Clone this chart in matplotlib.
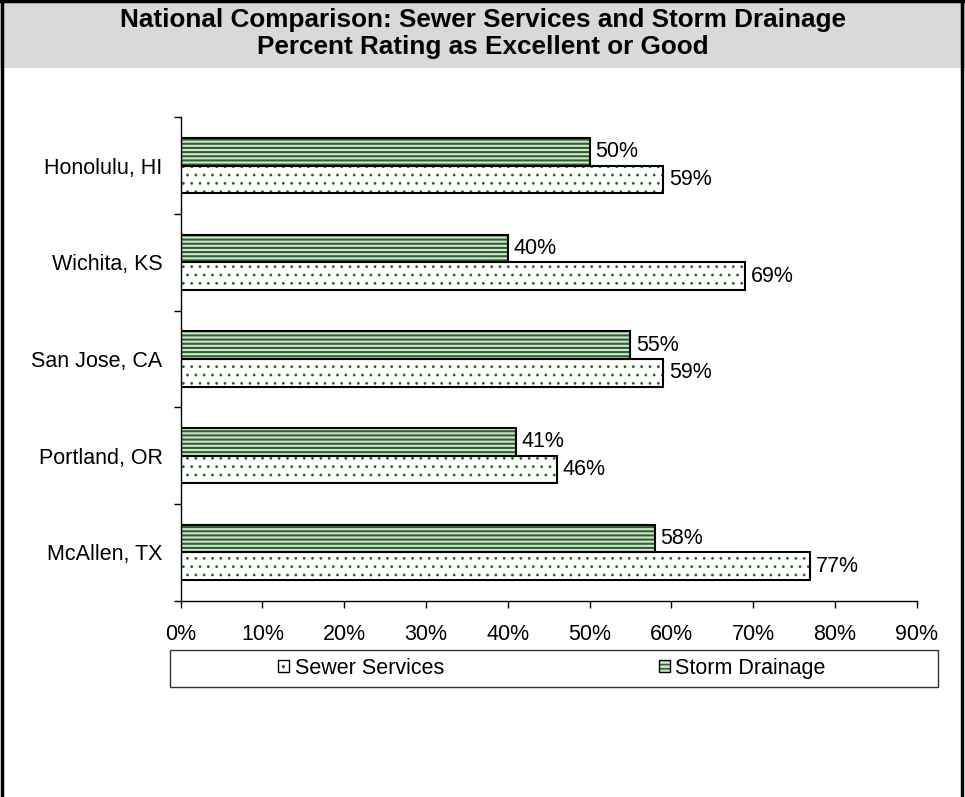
import matplotlib
matplotlib.use("Agg")
import matplotlib.pyplot as plt
from matplotlib.patches import Patch, Rectangle
from matplotlib.lines import Line2D
from matplotlib.legend_handler import HandlerTuple
import numpy as np

cities = ["Honolulu, HI", "Wichita, KS", "San Jose, CA", "Portland, OR", "McAllen, TX"]
sewer = [59, 69, 59, 46, 77]
storm = [50, 40, 55, 41, 58]
xticks = [0, 10, 20, 30, 40, 50, 60, 70, 80, 90]
title_lines = ["National Comparison: Sewer Services and Storm Drainage",
               "Percent Rating as Excellent or Good"]

plt.rcParams["font.family"] = ["Liberation Sans", "DejaVu Sans"]

W, H, DPI = 965, 797, 100
FS = 15.5
fig = plt.figure(figsize=(W / DPI, H / DPI), dpi=DPI)
fig.patch.set_facecolor("white")

# title band
band_bottom = 1 - 68 / H
fig.add_artist(Rectangle((0, band_bottom), 1, 1 - band_bottom, transform=fig.transFigure,
                         facecolor="#d9d9d9", edgecolor="none", zorder=0))
fig.text(0.5, 1 - 20 / H, title_lines[0], ha="center", va="center",
         fontsize=18.8, fontweight="bold")
fig.text(0.5, 1 - 47 / H, title_lines[1], ha="center", va="center",
         fontsize=18.8, fontweight="bold")

# outer frame (left, top, right)
for xs, ys in [([1.5 / W, 1.5 / W], [0, 1]), ([0, 1], [1 - 1 / H, 1 - 1 / H]),
               ([1 - 3 / W, 1 - 3 / W], [0, 1])]:
    fig.add_artist(Line2D(xs, ys, transform=fig.transFigure, color="black", lw=2.5))

left, right = 180.7 / W, 916.7 / W
top, bottom = 1 - 117.3 / H, 1 - 600.7 / H
ax = fig.add_axes([left, bottom, right - left, top - bottom])

green = "#2b632b"
y = np.arange(len(cities))
h = 0.285

storm_face = dict(facecolor="#d5e3d5", hatch="----", edgecolor=green, linewidth=0)
sewer_face = dict(facecolor="white", hatch="..", edgecolor=green, linewidth=0)


def set_hatch_lw(artists, lw):
    for a in artists:
        if hasattr(a, "set_hatch_linewidth"):
            a.set_hatch_linewidth(lw)


plt.rcParams["hatch.linewidth"] = 1.5
storm_bars = ax.barh(y - h / 2, storm, height=h, **storm_face, zorder=2)
set_hatch_lw(storm_bars, 1.5)
plt.rcParams["hatch.linewidth"] = 0.8
sewer_bars = ax.barh(y + h / 2, sewer, height=h, **sewer_face, zorder=2)
set_hatch_lw(sewer_bars, 0.8)
ax.barh(y - h / 2, storm, height=h, fill=False, edgecolor="black", linewidth=1.5, zorder=3)
ax.barh(y + h / 2, sewer, height=h, fill=False, edgecolor="black", linewidth=1.5, zorder=3)

for i in range(len(cities)):
    ax.annotate(f"{storm[i]}%", (storm[i], y[i] - h / 2), xytext=(4, 0),
                textcoords="offset points", va="center", ha="left", fontsize=FS)
    ax.annotate(f"{sewer[i]}%", (sewer[i], y[i] + h / 2), xytext=(4, 0),
                textcoords="offset points", va="center", ha="left", fontsize=FS)

ax.set_xlim(0, 90)
ax.set_ylim(len(cities) - 0.5, -0.5)
ax.set_xticks(xticks)
ax.set_xticklabels([f"{v}%" for v in xticks], fontsize=FS)
ax.set_yticks(y)
ax.set_yticklabels(cities, fontsize=FS)
ax.set_yticks(np.arange(-0.5, len(cities)), minor=True)
ax.tick_params(axis="y", which="major", length=0, pad=13)
ax.tick_params(axis="y", which="minor", length=5, width=1, direction="out")
ax.tick_params(axis="x", length=5, width=1, direction="out", pad=11.5)
for s in ["top", "right"]:
    ax.spines[s].set_visible(False)
for s in ["left", "bottom"]:
    ax.spines[s].set_linewidth(1)
ax.set_facecolor("none")

# legend
fig.add_artist(Rectangle((170 / W, 1 - 687 / H), 768 / W, 37 / H, transform=fig.transFigure,
                         facecolor="white", edgecolor="#333333", lw=1, zorder=1))
outline = Patch(facecolor="none", edgecolor="black", linewidth=1)
plt.rcParams["hatch.linewidth"] = 0.8
sewer_handle = Patch(**sewer_face)
plt.rcParams["hatch.linewidth"] = 1.2
storm_handle = Patch(**storm_face)
set_hatch_lw([sewer_handle], 0.8)
set_hatch_lw([storm_handle], 1.2)
handles = [(sewer_handle, outline), (storm_handle, outline)]
leg = fig.legend(handles, ["Sewer Services", "Storm Drainage"], ncol=2,
                 loc="center", bbox_to_anchor=(552 / W, 1 - 668.5 / H),
                 frameon=False, fontsize=FS, handlelength=0.5, handleheight=0.5,
                 handletextpad=0.25, columnspacing=10.0,
                 handler_map={tuple: HandlerTuple(ndivide=1)})

fig.savefig("out.png", dpi=DPI)
